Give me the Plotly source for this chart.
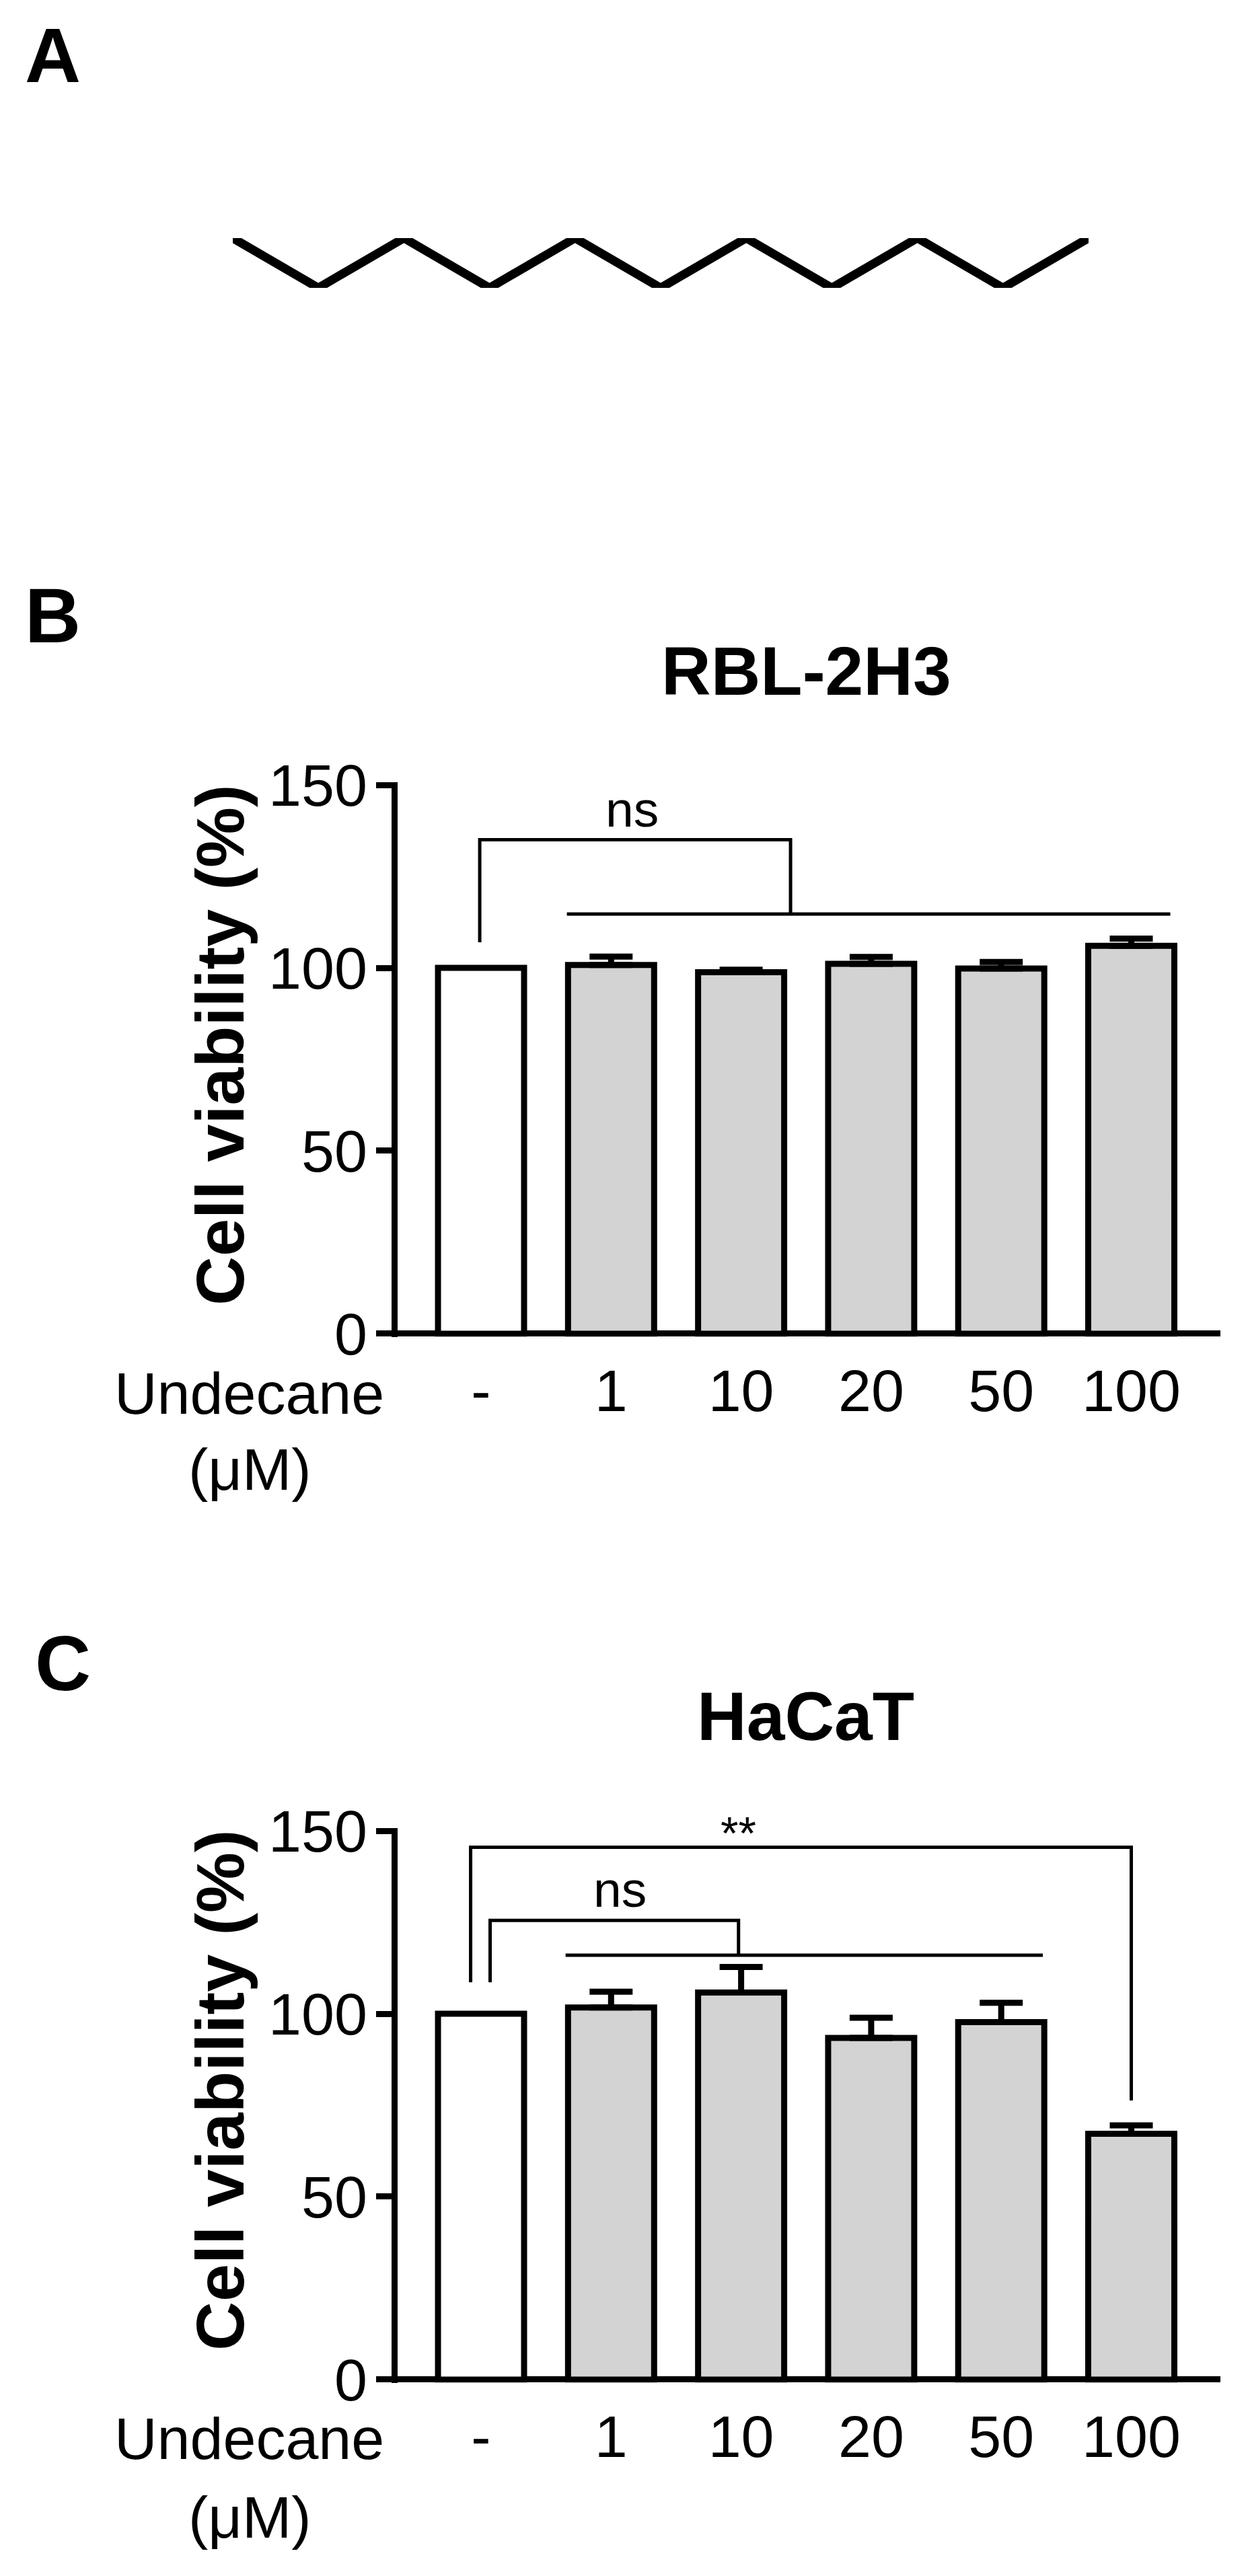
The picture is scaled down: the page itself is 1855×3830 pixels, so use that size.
import plotly.graph_objects as go

W, H = 1855, 3830
FONT = "Liberation Sans"

doses = ["-", "1", "10", "20", "50", "100"]
positions = [0, 1, 2, 3, 4, 5]

rbl_values = [100, 100.8, 98.8, 101.1, 99.8, 106]
rbl_errors = [0, 2.3, 0.7, 1.9, 1.8, 2]
hacat_values = [100, 101.7, 105.8, 93.4, 97.7, 67.2]
hacat_errors = [0, 4.3, 7, 5.5, 5.3, 2.3]

y_ticks = [0, 50, 100, 150]

# significance brackets, x in bar positions, y in % viability
rbl_bracket_x = [-0.01, -0.01, 2.38, 2.38]
rbl_bracket_y = [107, 135, 135, 114.7]
rbl_span_x = [0.66, 5.3]
rbl_span_y = [114.7, 114.7]

hacat_outer_x = [-0.08, -0.08, 5.0, 5.0]
hacat_outer_y = [108.6, 145.5, 145.5, 76.3]
hacat_inner_x = [0.07, 0.07, 1.98, 1.98]
hacat_inner_y = [108.6, 125.5, 125.5, 116]
hacat_span_x = [0.65, 4.32]
hacat_span_y = [116, 116]

# undecane skeleton: 11 carbons
chain_x = [0, 1, 2, 3, 4, 5, 6, 7, 8, 9, 10]
chain_y = [1, 0, 1, 0, 1, 0, 1, 0, 1, 0, 1]

fig = go.Figure()


def px_x(p):
    return p / W


def px_y(p):
    return 1 - p / H


def label(text, x, y, size, bold=False, **kw):
    fig.add_annotation(
        text=f"<b>{text}</b>" if bold else text,
        x=px_x(x), y=px_y(y), xref="paper", yref="paper",
        showarrow=False, xanchor=kw.pop("xanchor", "center"), yanchor="middle",
        font=dict(family=FONT, size=size, color="black"), **kw
    )


def line_trace(x, y, xa, ya, width=5):
    fig.add_trace(go.Scatter(
        x=x, y=y, mode="lines", xaxis=xa, yaxis=ya, showlegend=False,
        line=dict(color="black", width=width), cliponaxis=False
    ))


def panel(n, top, bottom, values, errors):
    xa, ya = f"x{n}", f"y{n}"
    # white control bar without an error bar, grey treated bars with one
    fig.add_trace(go.Bar(
        x=positions[:1], y=values[:1], xaxis=xa, yaxis=ya, width=0.662, showlegend=False,
        marker=dict(color="white", line=dict(color="black", width=9))
    ))
    fig.add_trace(go.Bar(
        x=positions[1:], y=values[1:], xaxis=xa, yaxis=ya, width=0.662, showlegend=False,
        marker=dict(color="#D3D3D3", line=dict(color="black", width=9)),
        error_y=dict(type="data", symmetric=False, array=errors[1:],
                     arrayminus=[0] * 5, color="black", thickness=9, width=32)
    ))
    fig.update_layout({
        f"xaxis{n}": dict(
            domain=[px_x(590.5), px_x(1814)], range=[(590.5 - 715) / 193.3, (1814 - 715) / 193.3],
            anchor=ya, tickvals=positions, ticktext=doses, ticks="", showgrid=False, automargin=False,
            zeroline=False, showline=False, ticklabelstandoff=21,
            tickfont=dict(family=FONT, size=88, color="black")
        ),
        f"yaxis{n}": dict(
            domain=[px_y(bottom + 4.5), px_y(top - 4.5)], range=[-0.83, 150.83], automargin=False,
            anchor=xa, tickvals=y_ticks, ticks="outside", ticklen=23, tickwidth=9, tickcolor="black",
            showline=True, linecolor="black", linewidth=9, showgrid=False,
            zeroline=True, zerolinecolor="black", zerolinewidth=9, ticklabelstandoff=-5,
            tickfont=dict(family=FONT, size=88, color="black")
        ),
    })


panel(1, 1167, 1983, rbl_values, rbl_errors)
panel(2, 2722, 3538, hacat_values, hacat_errors)

line_trace(rbl_bracket_x, rbl_bracket_y, "x1", "y1")
line_trace(rbl_span_x, rbl_span_y, "x1", "y1")
line_trace(hacat_outer_x, hacat_outer_y, "x2", "y2")
line_trace(hacat_inner_x, hacat_inner_y, "x2", "y2")
line_trace(hacat_span_x, hacat_span_y, "x2", "y2")

# panel A molecule
line_trace(chain_x, chain_y, "x3", "y3", width=13)
fig.update_layout(
    xaxis3=dict(domain=[px_x(346), px_x(1618)], range=[0, 10], anchor="y3", visible=False, automargin=False),
    yaxis3=dict(domain=[px_y(428), px_y(354)], range=[0, 1], anchor="x3", visible=False, automargin=False),
)

label("A", 78, 82, 115, bold=True)
label("B", 78, 915, 115, bold=True)
label("C", 93, 2473, 115, bold=True)

label("RBL-2H3", 1198, 998, 102, bold=True)
label("HaCaT", 1197, 2552, 102, bold=True)

for ycentre, y_undecane, y_unit in [(1554, 2071, 2184), (3108, 3625, 3742)]:
    label("Cell viability (%)", 327, ycentre, 101, bold=True, textangle=-90)
    label("Undecane", 370, y_undecane, 88)
    label("(μM)", 371, y_unit, 88)

label("ns", 939, 1203, 75)
label("ns", 921, 2809, 75)
label("**", 1097, 2725, 68)

fig.update_layout(
    width=W, height=H, margin=dict(l=0, r=0, t=0, b=0),
    paper_bgcolor="white", plot_bgcolor="white", showlegend=False,
    font=dict(family=FONT, color="black"), barmode="overlay"
)

fig.write_html("out.html", config=dict(displayModeBar=False),
               post_script="document.body.style.margin='0';")
